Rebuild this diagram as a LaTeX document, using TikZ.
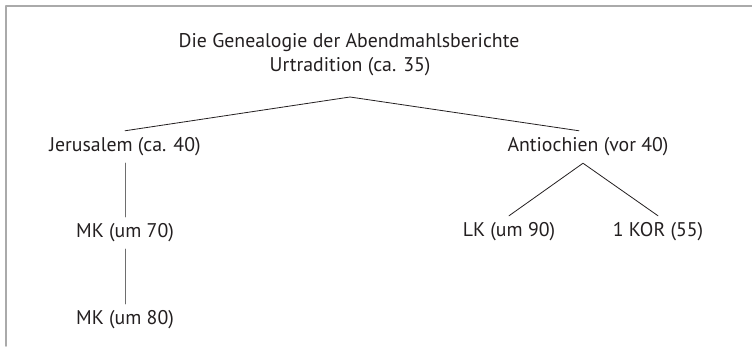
\documentclass[tikz,border=0pt]{standalone}
\usepackage{fontspec}
\setmainfont{PT Sans}
\usepackage{tikz}
\usetikzlibrary{positioning}
\definecolor{txt}{RGB}{35,31,32}
\definecolor{rim}{RGB}{170,170,170}
\definecolor{stem}{RGB}{110,110,110}

\begin{document}
\begin{tikzpicture}[line cap=round,line join=round,x=1pt,y=-1pt, every node/.style={text=txt, font=\fontsize{19.8}{23}\selectfont}, lbl/.style={inner sep=0pt, outer sep=7pt}, fork/.style={draw=txt, line width=0.8pt}, vline/.style={draw=stem, line width=1pt}]
                        \useasboundingbox (0,0) rectangle (752,346);
                        \draw [rim, line width=1.5pt] (6,346) -- (6,6) -- (752,6);

                        \node[lbl] (title) at (349,43) {Die Genealogie der Abendmahlsberichte};
                        \node[lbl] (urt) at (350,67) {Urtradition (ca. 35)};
                        \coordinate (top) at (350,97);

                        \node[lbl] (jer) at (125,147) {Jerusalem (ca. 40)};
                        \node[lbl] (mk1) at (125,233) {MK (um 70)};
                        \node[lbl] (mk2) at (125,320) {MK (um 80)};

                        \node[lbl] (ant) at (588,147) {Antiochien (vor 40)};
                        \node[lbl] (lk) at (509,232) {LK (um 90)};
                        \node[lbl] (kor) at (658,232) {1 KOR (55)};

                        \draw [fork] (jer.north) -- (top) -- ([xshift=-9pt]ant.north);
                        \draw [vline] (jer.south) -- (mk1.north);
                        \draw [vline] (mk1.south) -- (mk2.north);
                        \draw [fork] (lk.north) -- ([xshift=-5pt]ant.south) -- (kor.north);
                    \end{tikzpicture}
\end{document}
